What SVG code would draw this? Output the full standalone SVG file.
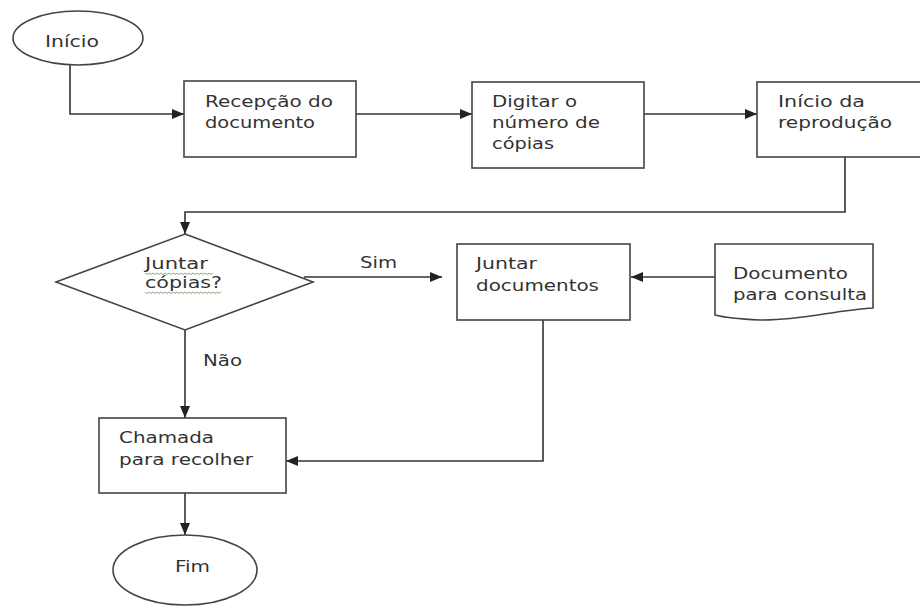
<svg xmlns="http://www.w3.org/2000/svg" width="920" height="606" viewBox="0 0 920 606">
<style>
.shape{fill:#fff;stroke:#444;stroke-width:1.6}
.conn{fill:none;stroke:#333;stroke-width:1.6}
.t{font-family:"DejaVu Sans","Liberation Sans",sans-serif;font-size:16px;fill:#333}
.spell{fill:none;stroke:#7fa070;stroke-width:0.9}
</style>
<defs>
<marker id="arr" viewBox="0 0 12 10" refX="12" refY="5" markerWidth="12" markerHeight="10" markerUnits="userSpaceOnUse" orient="auto">
<path d="M0,0 L12,5 L0,10 Z" fill="#222"/>
</marker>
</defs>
<rect width="920" height="606" fill="#fff"/>

<g id="connectors">
<path class="conn" d="M70,65 V114 H184" marker-end="url(#arr)"/>
<path class="conn" d="M356,114 H472" marker-end="url(#arr)"/>
<path class="conn" d="M644,114 H757" marker-end="url(#arr)"/>
<path class="conn" d="M845,157 V212 H185 V234" marker-end="url(#arr)"/>
<path class="conn" d="M304,277 H442" marker-end="url(#arr)"/>
<path class="conn" d="M715,277 H631" marker-end="url(#arr)"/>
<path class="conn" d="M543,320 V461 H286" marker-end="url(#arr)"/>
<path class="conn" d="M185,330 V418" marker-end="url(#arr)"/>
<path class="conn" d="M185,493 V535" marker-end="url(#arr)"/>
<text class="t" x="360" y="268" textLength="37" lengthAdjust="spacingAndGlyphs">Sim</text>
<text class="t" x="203" y="366" textLength="39" lengthAdjust="spacingAndGlyphs">Não</text>
</g>

<g id="inicio">
<ellipse class="shape" cx="78" cy="38" rx="65" ry="27"/>
<text class="t" x="45" y="47" textLength="54" lengthAdjust="spacingAndGlyphs">Início</text>
</g>

<g id="recepcao">
<rect class="shape" x="184" y="81" width="172" height="76"/>
<text class="t" x="205" y="107" textLength="128" lengthAdjust="spacingAndGlyphs">Recepção do</text>
<text class="t" x="205" y="128" textLength="110" lengthAdjust="spacingAndGlyphs">documento</text>
</g>

<g id="digitar">
<rect class="shape" x="472" y="82" width="172" height="86"/>
<text class="t" x="492" y="107" textLength="85" lengthAdjust="spacingAndGlyphs">Digitar o</text>
<text class="t" x="492" y="128" textLength="108" lengthAdjust="spacingAndGlyphs">número de</text>
<text class="t" x="492" y="149" textLength="62" lengthAdjust="spacingAndGlyphs">cópias</text>
</g>

<g id="inicio-reproducao">
<rect class="shape" x="757" y="82" width="175" height="75"/>
<text class="t" x="778" y="107" textLength="87" lengthAdjust="spacingAndGlyphs">Início da</text>
<text class="t" x="778" y="128" textLength="114" lengthAdjust="spacingAndGlyphs">reprodução</text>
</g>

<g id="juntar-copias">
<polygon class="shape" points="185,234 313,282 185,330 56,282"/>
<text class="t" x="145" y="269" textLength="63" lengthAdjust="spacingAndGlyphs">Juntar</text>
<text class="t" x="145" y="288" textLength="77" lengthAdjust="spacingAndGlyphs">cópias?</text>
<path class="spell" d="M145,273 l2,1.5 l2,-1.5 l2,1.5 l2,-1.5 l2,1.5 l2,-1.5 l2,1.5 l2,-1.5 l2,1.5 l2,-1.5 l2,1.5 l2,-1.5 l2,1.5 l2,-1.5 l2,1.5 l2,-1.5 l2,1.5 l2,-1.5 l2,1.5 l2,-1.5 l2,1.5 l2,-1.5 l2,1.5 l2,-1.5 l2,1.5 l2,-1.5 l2,1.5 l2,-1.5 l2,1.5 l2,-1.5 l2,1.5 l2,-1.5 l2,1.5 l2,-1.5"/>
<path class="spell" d="M145,292 l2,1.5 l2,-1.5 l2,1.5 l2,-1.5 l2,1.5 l2,-1.5 l2,1.5 l2,-1.5 l2,1.5 l2,-1.5 l2,1.5 l2,-1.5 l2,1.5 l2,-1.5 l2,1.5 l2,-1.5 l2,1.5 l2,-1.5 l2,1.5 l2,-1.5 l2,1.5 l2,-1.5 l2,1.5 l2,-1.5 l2,1.5 l2,-1.5 l2,1.5 l2,-1.5 l2,1.5 l2,-1.5 l2,1.5 l2,-1.5 l2,1.5 l2,-1.5 l2,1.5 l2,-1.5 l2,1.5 l2,-1.5"/>
</g>

<g id="juntar-documentos">
<rect class="shape" x="457" y="244" width="173" height="76"/>
<text class="t" x="476" y="269" textLength="61" lengthAdjust="spacingAndGlyphs">Juntar</text>
<text class="t" x="476" y="291" textLength="123" lengthAdjust="spacingAndGlyphs">documentos</text>
</g>

<g id="documento-consulta">
<path class="shape" d="M715,244 H873 V308 C835,310 800,321 760,320 C738,319 722,317 715,315 Z"/>
<text class="t" x="733" y="279" textLength="115" lengthAdjust="spacingAndGlyphs">Documento</text>
<text class="t" x="733" y="300" textLength="134" lengthAdjust="spacingAndGlyphs">para consulta</text>
</g>

<g id="chamada">
<rect class="shape" x="99" y="418" width="187" height="75"/>
<text class="t" x="119" y="443" textLength="95" lengthAdjust="spacingAndGlyphs">Chamada</text>
<text class="t" x="119" y="465" textLength="134" lengthAdjust="spacingAndGlyphs">para recolher</text>
</g>

<g id="fim">
<ellipse class="shape" cx="185" cy="570" rx="72" ry="35"/>
<text class="t" x="175" y="572" textLength="35" lengthAdjust="spacingAndGlyphs">Fim</text>
</g>
</svg>
